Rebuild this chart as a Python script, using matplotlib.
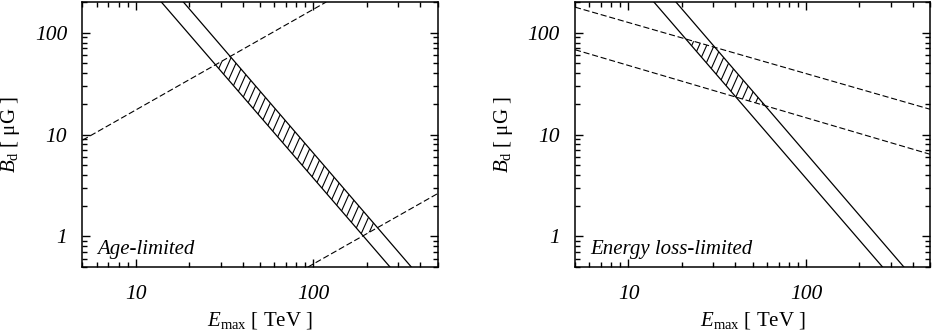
import numpy as np
import matplotlib
matplotlib.use("Agg")
import matplotlib.pyplot as plt
from matplotlib.patches import Polygon
from matplotlib.collections import LineCollection
from matplotlib.ticker import FixedLocator, FuncFormatter, NullFormatter

plt.rcParams['font.family'] = ['Liberation Serif', 'DejaVu Serif']
plt.rcParams['mathtext.fontset'] = 'custom'
plt.rcParams['mathtext.rm'] = 'Liberation Serif'
plt.rcParams['mathtext.it'] = 'Liberation Serif:italic'

# end points of the lines: E_max [TeV], B_d [uG]
solid_low_E = [13.9, 270.0]
solid_low_B = [200.0, 0.5]
solid_high_E = [18.5, 356.0]
solid_high_B = [200.0, 0.5]

age_upper_E = [5.0, 118.0]
age_upper_B = [8.8, 200.0]
age_lower_E = [93.0, 500.0]
age_lower_B = [0.5, 2.63]

loss_upper_E = [5.0, 500.0]
loss_upper_B = [178.0, 17.7]
loss_lower_E = [5.0, 500.0]
loss_lower_B = [68.0, 6.4]

panel_labels = ["Age-limited", "Energy loss-limited"]
x_ticks = [10, 100]
y_ticks = [1, 10, 100]
x_lim = (5, 500)
y_lim = (0.5, 200)


def loglin(E, B):
    # straight line in log-log: log B = a + b log E
    lx, ly = np.log10(E), np.log10(B)
    b = (ly[1] - ly[0]) / (lx[1] - lx[0])
    return ly[0] - b * lx[0], b


def cross(l1, l2):
    (a1, b1), (a2, b2) = loglin(*l1), loglin(*l2)
    x = (a2 - a1) / (b1 - b2)
    return 10 ** x, 10 ** (a1 + b1 * x)


def draw_panel(ax, dash_up, dash_lo, label):
    ax.set_xscale('log')
    ax.set_yscale('log')
    ax.set_xlim(*x_lim)
    ax.set_ylim(*y_lim)

    s_lo = (solid_low_E, solid_low_B)
    s_hi = (solid_high_E, solid_high_B)
    ax.plot(*s_lo, color='k', lw=0.9)
    ax.plot(*s_hi, color='k', lw=0.9)
    for d in (dash_up, dash_lo):
        ax.plot(*d, color='k', lw=0.8, dashes=(5.5, 2.5))

    # allowed region: between both solid and both dashed lines
    pts = [cross(s_lo, dash_up), cross(s_hi, dash_up),
           cross(s_hi, dash_lo), cross(s_lo, dash_lo)]
    region = Polygon(pts, closed=True, facecolor='none', edgecolor='none')
    ax.add_patch(region)
    x0 = np.arange(-1.0, 1.5, 0.021)
    segs = [[(x, 0), (x + 1 / 3.0, 1)] for x in x0]
    hatch = LineCollection(segs, colors='k', linewidths=0.8,
                           transform=ax.transAxes)
    ax.add_collection(hatch)
    hatch.set_clip_path(region)

    ax.text(0.042, 0.05, label, transform=ax.transAxes, fontsize=15,
            fontstyle='italic')

    ax.xaxis.set_major_locator(FixedLocator(x_ticks))
    ax.yaxis.set_major_locator(FixedLocator(y_ticks))
    ax.xaxis.set_major_formatter(FuncFormatter(lambda v, p: f"{v:g}"))
    ax.yaxis.set_major_formatter(FuncFormatter(lambda v, p: f"{v:g}"))
    ax.xaxis.set_minor_formatter(NullFormatter())
    ax.yaxis.set_minor_formatter(NullFormatter())
    ax.tick_params(which='both', direction='in', top=True, right=True,
                   width=1.0, labelsize=15.5)
    ax.tick_params(which='major', length=6)
    ax.tick_params(which='minor', length=3.3)
    ax.tick_params(axis='x', which='major', pad=13)
    ax.tick_params(axis='y', which='major', pad=11)
    plt.setp(ax.get_xticklabels(), fontstyle='italic')
    plt.setp(ax.get_yticklabels(), fontstyle='italic')
    for sp in ax.spines.values():
        sp.set_linewidth(1.1)

    ax.set_xlabel(r"$E_{\rm max}$ [ TeV ]", fontsize=15, labelpad=4)
    ax.set_ylabel(r"$B_{\rm d}$ [ μG ]", fontsize=15, labelpad=9)


fig = plt.figure(figsize=(9.32, 3.33), dpi=100)
ax1 = fig.add_axes([0.0885, 0.198, 0.381, 0.796])
ax2 = fig.add_axes([0.617, 0.198, 0.381, 0.796])

draw_panel(ax1, (age_upper_E, age_upper_B), (age_lower_E, age_lower_B),
           panel_labels[0])
draw_panel(ax2, (loss_upper_E, loss_upper_B), (loss_lower_E, loss_lower_B),
           panel_labels[1])

fig.savefig("out.png", dpi=100)
